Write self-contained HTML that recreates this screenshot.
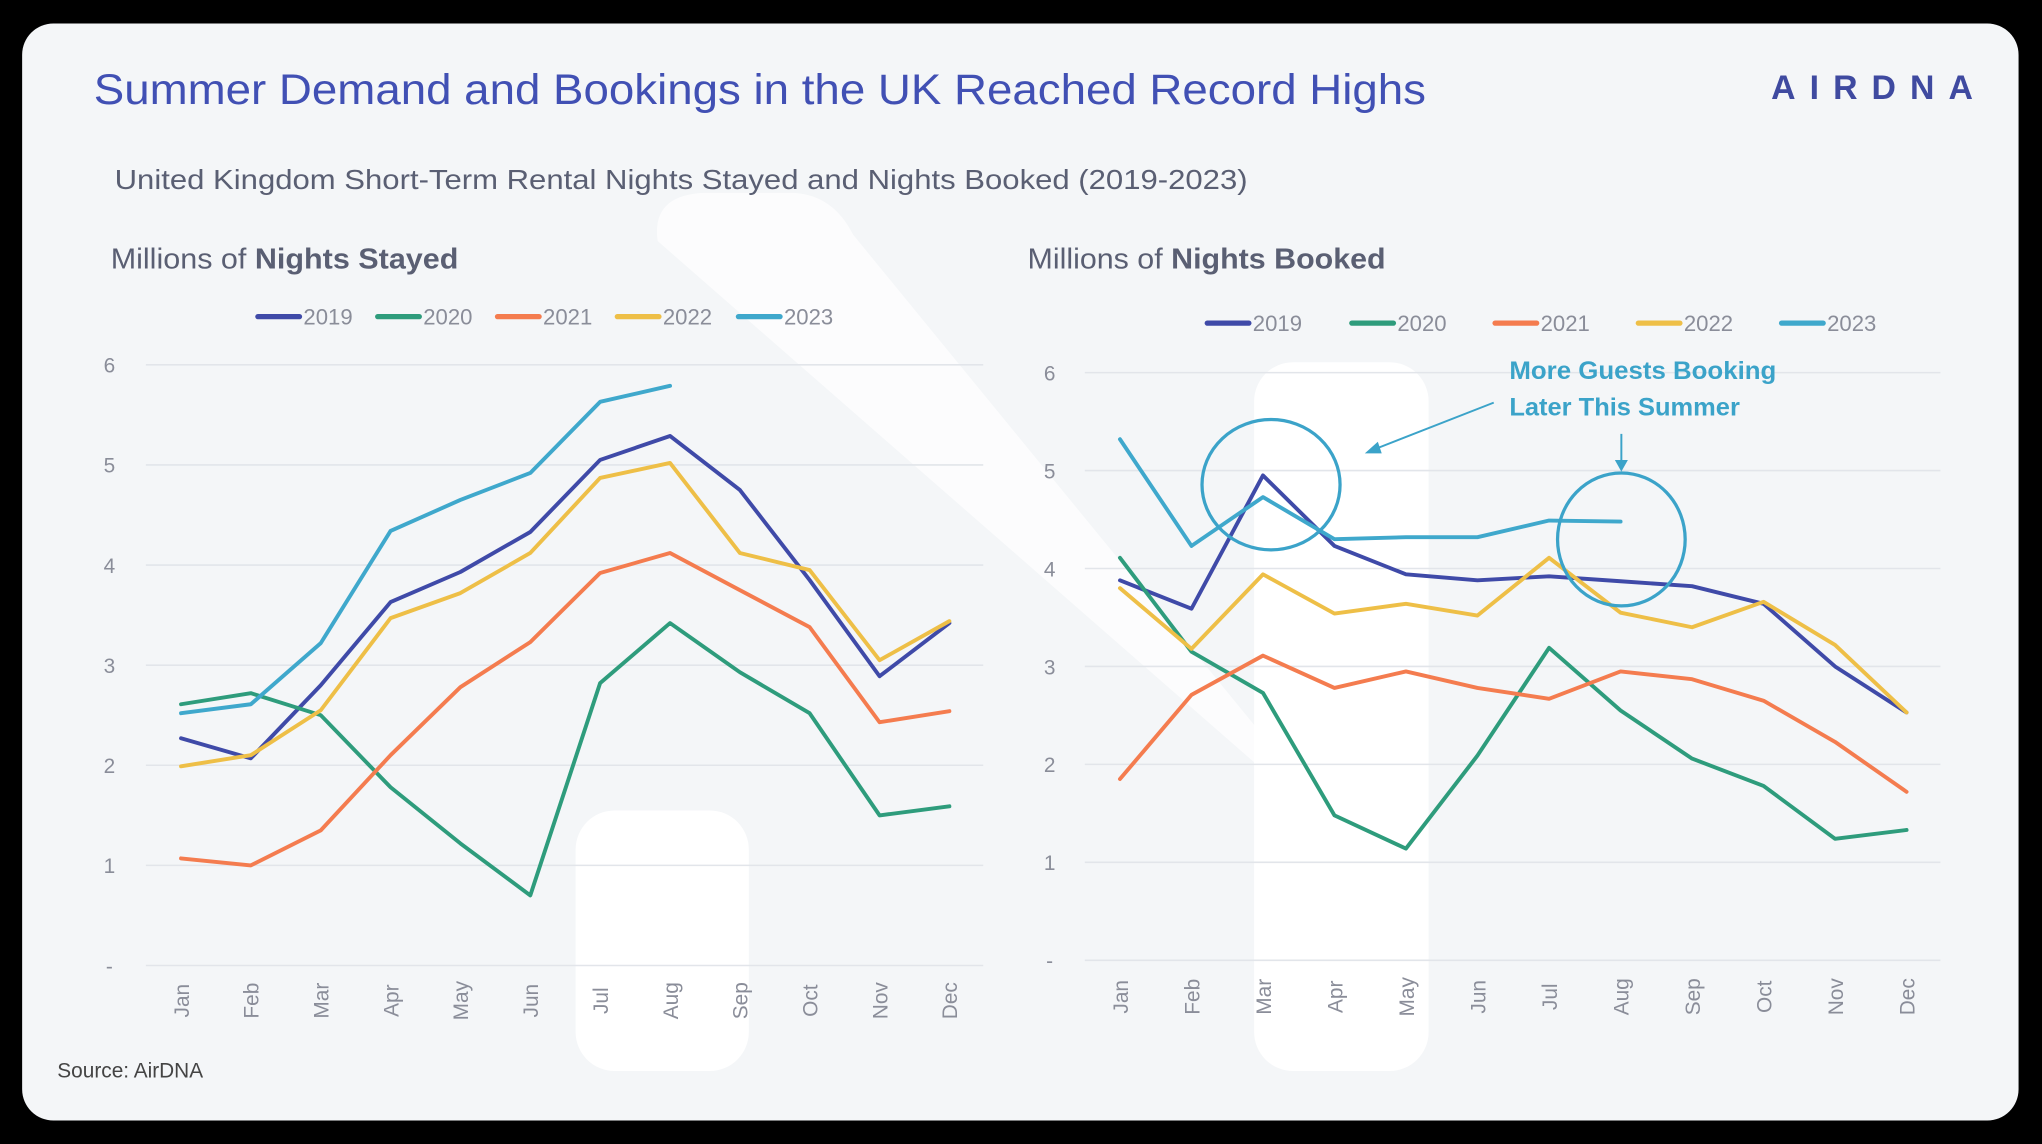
<!DOCTYPE html>
<html><head><meta charset="utf-8"><style>
html,body{margin:0;padding:0;background:#000;}
svg{display:block;}
text{font-family:"Liberation Sans",sans-serif;}
</style></head><body>
<svg id="root" width="2042" height="1144" viewBox="0 0 1568 878" preserveAspectRatio="none" xmlns="http://www.w3.org/2000/svg">
<rect x="0" y="0" width="1568" height="878" fill="#000"/>
<rect x="17" y="18" width="1533" height="842" rx="24" fill="#f4f6f8"/>
<g fill="#ffffff">
<path d="M505,185 Q500,150 540,148 L610,148 Q640,150 655,180 L1097,720 L1097,760 L963,760 L963,585 Z" opacity="0.7"/>
<rect x="442" y="622" width="133" height="200" rx="30"/>
<rect x="963" y="278" width="134" height="544" rx="30"/>
</g>
<text x="72" y="80" font-size="33" fill="#4150b4" textLength="1023" lengthAdjust="spacingAndGlyphs">Summer Demand and Bookings in the UK Reached Record Highs</text>
<text x="1360" y="76" font-size="26" font-weight="bold" fill="#3f4aa0" textLength="155" lengthAdjust="spacing">AIRDNA</text>
<text x="88" y="145" font-size="21" fill="#5a5f73" textLength="870" lengthAdjust="spacingAndGlyphs">United Kingdom Short-Term Rental Nights Stayed and Nights Booked (2019-2023)</text>
<text x="85" y="206" font-size="22" fill="#5a5f73" textLength="267" lengthAdjust="spacingAndGlyphs">Millions of <tspan font-weight="bold">Nights Stayed</tspan></text>
<text x="789" y="206" font-size="22" fill="#5a5f73" textLength="275" lengthAdjust="spacingAndGlyphs">Millions of <tspan font-weight="bold">Nights Booked</tspan></text>
<text x="44" y="827" font-size="16" fill="#444">Source: AirDNA</text>
<g id="left"></g>
<g id="right"></g>
<g stroke="#3ba3c9" fill="none" stroke-width="2.5">
<ellipse cx="976" cy="372" rx="53" ry="50"/>
<ellipse cx="1245" cy="414" rx="49" ry="51"/>
<line x1="1147" y1="309" x2="1055" y2="345" stroke-width="1.5"/>
<polygon points="1048,348 1058,339 1061,348" fill="#3ba3c9" stroke="none"/>
<line x1="1245" y1="333" x2="1245" y2="355" stroke-width="1.5"/>
<polygon points="1240,353 1250,353 1245,362" fill="#3ba3c9" stroke="none"/>
</g>
<text x="1159" y="291" font-size="19" font-weight="bold" fill="#3ba3c9" textLength="205" lengthAdjust="spacingAndGlyphs">More Guests Booking</text>
<text x="1159" y="319" font-size="19" font-weight="bold" fill="#3ba3c9" textLength="177" lengthAdjust="spacingAndGlyphs">Later This Summer</text>
</svg>
<script>
var months = ["Jan","Feb","Mar","Apr","May","Jun","Jul","Aug","Sep","Oct","Nov","Dec"];
var years = ["2019","2020","2021","2022","2023"];
var colors = ["#3f4aa8","#2e9c7c","#f47c4f","#eebf47","#3fa8cc"];
var yTicks = [0,1,2,3,4,5,6];
var yTickLabels = ["-","1","2","3","4","5","6"];
var stayed2019 = [2.27,2.07,2.8,3.63,3.93,4.33,5.05,5.29,4.75,3.85,2.89,3.42];
var stayed2020 = [2.61,2.72,2.5,1.78,1.22,0.7,2.82,3.42,2.93,2.52,1.5,1.59];
var stayed2021 = [1.07,1.0,1.35,2.1,2.78,3.23,3.92,4.12,3.75,3.38,2.43,2.54];
var stayed2022 = [1.99,2.1,2.55,3.47,3.72,4.12,4.87,5.02,4.12,3.95,3.05,3.44];
var stayed2023 = [2.52,2.61,3.22,4.34,4.65,4.92,5.63,5.79];
var booked2019 = [3.88,3.59,4.95,4.23,3.94,3.88,3.92,3.87,3.82,3.64,3.0,2.53];
var booked2020 = [4.11,3.15,2.73,1.48,1.14,2.09,3.19,2.55,2.06,1.78,1.24,1.33];
var booked2021 = [1.85,2.71,3.11,2.78,2.95,2.78,2.67,2.95,2.87,2.65,2.23,1.72];
var booked2022 = [3.80,3.18,3.94,3.54,3.64,3.52,4.11,3.55,3.40,3.66,3.22,2.53];
var booked2023 = [5.32,4.23,4.73,4.30,4.32,4.32,4.49,4.48];

var NS="http://www.w3.org/2000/svg";
function mk(tag, attrs, parent){var e=document.createElementNS(NS,tag);for(var k in attrs)e.setAttribute(k,attrs[k]);parent.appendChild(e);return e;}

function drawChart(g, cfg, series, prefix){
  function xs(i){return cfg.x0 + i*(cfg.x1-cfg.x0)/11;}
  function ys(v){return cfg.y0 - v*(cfg.y0-cfg.y6)/6;}
  yTicks.forEach(function(t,i){
    var l=mk('line',{x1:cfg.gx0,x2:cfg.gx1,y1:ys(t),y2:ys(t),stroke:'#e2e5ea','stroke-width':1.2},g);
    
    
    var tx=mk('text',{x:cfg.lx,y:ys(t)+6,'font-size':16,fill:'#8a8d99','text-anchor':'middle'},g);
    tx.textContent=yTickLabels[i];
    
    
  });
  months.forEach(function(m,i){
    var tx=mk('text',{x:0,y:0,'font-size':16,fill:'#8a8d99','text-anchor':'middle',transform:'translate('+(xs(i)+6)+','+cfg.my+') rotate(-90)'},g);
    tx.textContent=m;
    
    
  });
  series.forEach(function(s,k){
    var pts=s.map(function(v,i){return xs(i).toFixed(1)+','+ys(v).toFixed(1);}).join(' ');
    var pl=mk('polyline',{points:pts,fill:'none',stroke:colors[k],'stroke-width':3,'stroke-linejoin':'round','stroke-linecap':'round'},g);
    
    
  });
  years.forEach(function(y,k){
    var lx=cfg.legX[k];
    var ln=mk('line',{x1:lx,x2:lx+32,y1:cfg.legY,y2:cfg.legY,stroke:colors[k],'stroke-width':4,'stroke-linecap':'round'},g);
    
    
    var tx=mk('text',{x:lx+35,y:cfg.legY+6,'font-size':17,fill:'#8a8d99'},g);
    tx.textContent=y;
    
    
  });
}
drawChart(document.getElementById('left'),
  {x0:139,x1:729,y0:741,y6:280,gx0:112,gx1:755,lx:84,my:768,legY:243,legX:[198,290,382,474,567]},
  [stayed2019,stayed2020,stayed2021,stayed2022,stayed2023],'stayed');
drawChart(document.getElementById('right'),
  {x0:860,x1:1464,y0:737,y6:286,gx0:833,gx1:1490,lx:806,my:765,legY:248,legX:[927,1038,1148,1258,1368]},
  [booked2019,booked2020,booked2021,booked2022,booked2023],'booked');
</script>
</body></html>
